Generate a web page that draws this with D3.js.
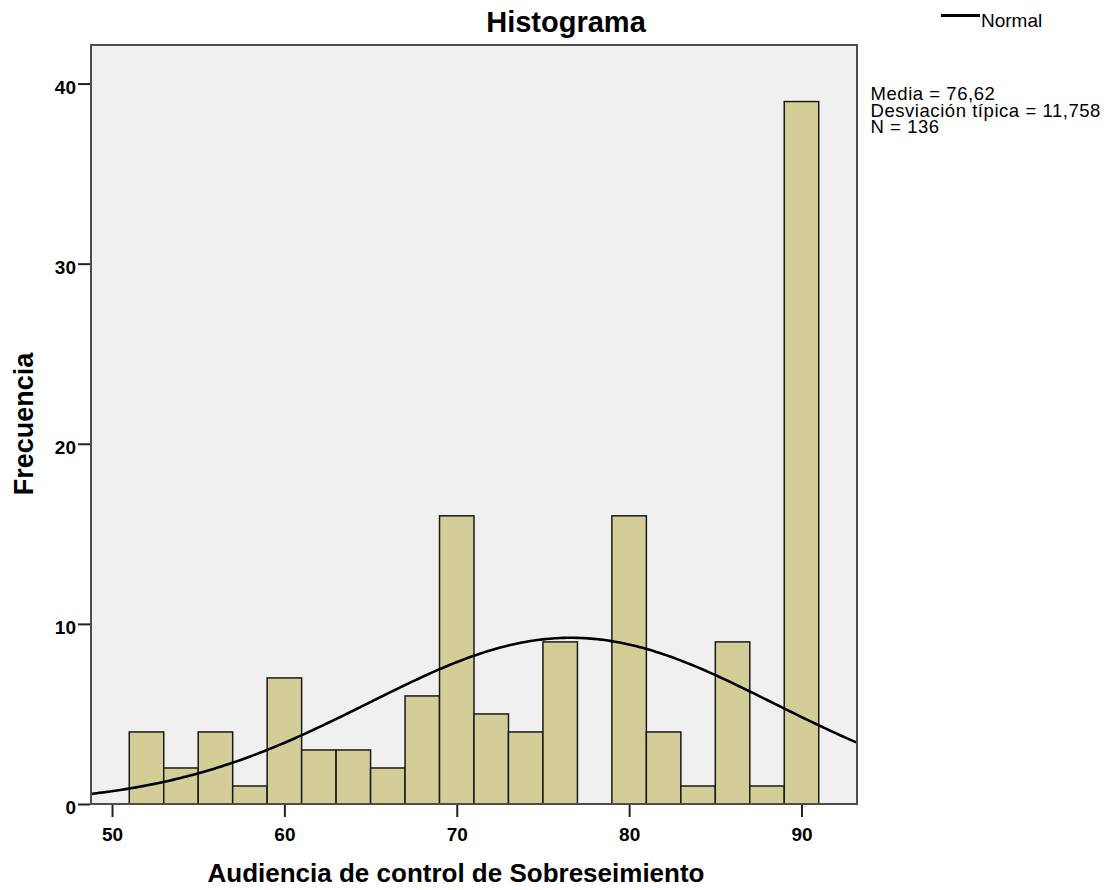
<!DOCTYPE html>
<html>
<head>
<meta charset="utf-8">
<script src="https://cdn.jsdelivr.net/npm/d3@7"></script>
<style>
  body { margin: 0; background: #fff; }
  svg { display: block; font-family: "Liberation Sans", Arial, sans-serif; }
</style>
</head>
<body>
<svg id="chart" width="1115" height="890"></svg>
<script>
// histogram bins (lower edge, width 2) and their counts
var binStart = [51, 53, 55, 57, 59, 61, 63, 65, 67, 69, 71, 73, 75, 77, 79, 81, 83, 85, 87, 89];
var counts   = [ 4,  2,  4,  1,  7,  3,  3,  2,  6, 16,  5,  4,  9,  0, 16,  4,  1,  9,  1, 39];
var binWidth = 2;

var xTicks = [50, 60, 70, 80, 90];
var yTicks = [0, 10, 20, 30, 40];

// summary shown on the right, also used for the normal curve
var media = 76.62, desv = 11.758, n = 136;
var statLines = ["Media = 76,62", "Desviación típica = 11,758", "N = 136"];

var svg = d3.select("#chart");

var pLeft = 91, pRight = 857, pTop = 45, pBottom = 804;

var x = d3.scaleLinear().domain([48.78, 93.22]).range([pLeft, pRight]);
var y = d3.scaleLinear().domain([0, 42.14]).range([pBottom, pTop]);

svg.append("defs").append("clipPath").attr("id", "plotclip")
  .append("rect").attr("x", pLeft).attr("y", pTop)
  .attr("width", pRight - pLeft).attr("height", pBottom - pTop);

// plot background
svg.append("rect")
  .attr("x", pLeft).attr("y", pTop)
  .attr("width", pRight - pLeft).attr("height", pBottom - pTop)
  .attr("fill", "#f0f0f0");

// bars
svg.append("g").selectAll("rect")
  .data(counts.map(function(c, i) { return { x0: binStart[i], v: c }; }).filter(function(d) { return d.v > 0; }))
  .join("rect")
  .attr("x", function(d) { return x(d.x0); })
  .attr("y", function(d) { return y(d.v); })
  .attr("width", function(d) { return x(d.x0 + binWidth) - x(d.x0); })
  .attr("height", function(d) { return y(0) - y(d.v); })
  .attr("fill", "#d3ce97")
  .attr("stroke", "#1a1a1a")
  .attr("stroke-width", 1.5);

// normal curve scaled to the histogram (n * bin width * density)
var xs = d3.range(48.78, 93.3, 0.2);
var curve = xs.map(function(v) {
  var z = (v - media) / desv;
  return [v, n * binWidth * Math.exp(-0.5 * z * z) / (desv * Math.sqrt(2 * Math.PI))];
});

svg.append("path")
  .datum(curve)
  .attr("clip-path", "url(#plotclip)")
  .attr("fill", "none")
  .attr("stroke", "#000")
  .attr("stroke-width", 2.6)
  .attr("d", d3.line().x(function(d) { return x(d[0]); }).y(function(d) { return y(d[1]); }).curve(d3.curveBasis));

// frame
svg.append("rect")
  .attr("x", pLeft).attr("y", pTop)
  .attr("width", pRight - pLeft).attr("height", pBottom - pTop)
  .attr("fill", "none")
  .attr("stroke", "#4d4d4d")
  .attr("stroke-width", 2);

// axes
var xAxis = svg.append("g")
  .attr("transform", "translate(0," + (pBottom + 1) + ")")
  .call(d3.axisBottom(x).tickValues(xTicks).tickSize(12).tickPadding(9));
xAxis.select(".domain").remove();

var yAxis = svg.append("g")
  .attr("transform", "translate(" + (pLeft - 1) + ",0)")
  .call(d3.axisLeft(y).tickValues(yTicks).tickSize(12).tickPadding(2));
yAxis.select(".domain").remove();

svg.selectAll(".tick line").attr("stroke", "#222").attr("stroke-width", 2);
svg.selectAll(".tick text")
  .attr("fill", "#000")
  .style("font-family", "'Liberation Sans', Arial, sans-serif")
  .style("font-size", "19px")
  .style("font-weight", "bold");
yAxis.selectAll(".tick text").attr("dy", "0.52em");
xAxis.selectAll(".tick text").attr("dy", "0.78em");

// titles
svg.append("text")
  .attr("x", 566).attr("y", 32)
  .attr("text-anchor", "middle")
  .style("font-size", "29px").style("font-weight", "bold")
  .text("Histograma");

svg.append("text")
  .attr("x", 456).attr("y", 882)
  .attr("text-anchor", "middle")
  .style("font-size", "26px").style("font-weight", "bold")
  .text("Audiencia de control de Sobreseimiento");

svg.append("text")
  .attr("transform", "translate(33,424) rotate(-90)")
  .attr("text-anchor", "middle")
  .style("font-size", "27px").style("font-weight", "bold")
  .text("Frecuencia");

// legend
svg.append("line")
  .attr("x1", 941).attr("x2", 980).attr("y1", 15.5).attr("y2", 15.5)
  .attr("stroke", "#000").attr("stroke-width", 3);
svg.append("text")
  .attr("x", 981).attr("y", 26.5)
  .style("font-size", "19px")
  .text("Normal");

// statistics
svg.append("g").selectAll("text")
  .data(statLines)
  .join("text")
  .attr("x", 870.5)
  .attr("y", function(d, i) { return 100.2 + i * 16.3; })
  .style("font-size", "18.5px")
  .style("letter-spacing", "0.55px")
  .text(function(d) { return d; });
</script>
</body>
</html>
